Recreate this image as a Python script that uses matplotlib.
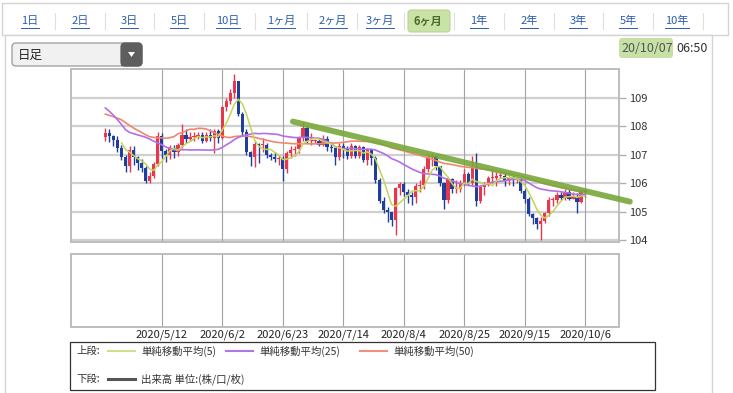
import numpy as np
import pandas as pd
import matplotlib
matplotlib.use("Agg")
import matplotlib.pyplot as plt
from matplotlib.patches import FancyBboxPatch, Rectangle, Polygon

plt.rcParams['font.family'] = ['Noto Sans CJK JP', 'DejaVu Sans']

# closes before the visible window (only used for the moving averages)
pre_closes = [109.82, 109.77, 109.87, 109.90, 111.42, 112.08, 111.59, 110.75, 110.17, 110.43,
              109.53, 107.89, 108.30, 107.48, 107.51, 106.13, 105.37, 102.35, 105.55, 104.65,
              104.60, 107.91, 105.78, 107.68, 108.72, 110.74, 110.83, 111.18, 111.20, 111.21,
              109.57, 107.94, 107.80, 107.53, 107.20, 107.89, 108.49, 109.25, 108.78, 108.84,
              108.46, 108.47, 107.76, 107.16, 107.48, 107.94, 107.54, 107.61, 107.63]

# daily candles 2020/4/22 - 2020/10/6
opens = [107.63, 107.77, 107.65, 107.51, 107.24, 106.92, 106.62, 107.17, 106.91, 106.70,
         106.53, 106.09, 106.26, 106.66, 107.67, 107.13, 107.00, 107.25, 107.09, 107.33,
         107.71, 107.57, 107.61, 107.63, 107.70, 107.50, 107.71, 107.59, 107.83, 107.59,
         108.67, 108.89, 109.18, 109.60, 108.44, 107.80, 107.10, 106.91, 107.37, 107.33,
         107.35, 106.98, 106.91, 106.86, 106.90, 106.51, 107.06, 107.16, 107.21, 107.58,
         107.93, 107.47, 107.49, 107.50, 107.36, 107.56, 107.26, 107.25, 106.91, 107.30,
         107.24, 106.95, 107.30, 106.96, 107.28, 106.80, 107.17, 106.88, 106.12, 105.38,
         105.05, 104.97, 104.71, 105.84, 105.97, 105.70, 105.58, 105.53, 105.91, 105.93,
         106.49, 106.93, 106.94, 106.59, 105.99, 105.40, 106.15, 105.78, 105.80, 105.97,
         106.34, 106.02, 106.58, 105.37, 105.87, 105.95, 106.17, 106.19, 106.24, 106.27,
         106.09, 106.18, 106.15, 106.15, 105.73, 105.44, 104.93, 104.76, 104.57, 104.67,
         104.94, 105.40, 105.40, 105.58, 105.49, 105.69, 105.46, 105.52, 105.33, 105.75]
highs = [107.95, 107.90, 107.70, 107.65, 107.35, 106.98, 107.30, 107.30, 106.95, 106.85,
         106.60, 106.40, 106.75, 107.80, 107.75, 107.20, 107.35, 107.35, 107.40, 108.10,
         107.90, 107.80, 107.80, 107.80, 107.80, 107.80, 107.90, 107.90, 107.90, 108.70,
         109.00, 109.30, 109.85, 109.60, 108.50, 107.90, 107.15, 107.50, 107.40, 107.60,
         107.40, 107.05, 107.10, 107.00, 106.95, 107.15, 107.30, 107.30, 107.65, 108.16,
         108.00, 107.75, 107.55, 107.60, 107.70, 107.65, 107.40, 107.30, 107.40, 107.40,
         107.30, 107.40, 107.35, 107.35, 107.30, 107.25, 107.20, 106.95, 106.20, 105.50,
         105.15, 105.00, 105.85, 106.05, 106.05, 105.80, 105.70, 106.00, 106.10, 106.60,
         107.00, 107.05, 106.95, 106.60, 106.05, 106.20, 106.20, 106.10, 106.10, 106.50,
         106.40, 106.95, 107.05, 105.95, 106.05, 106.25, 106.55, 106.40, 106.35, 106.40,
         106.25, 106.25, 106.20, 106.20, 105.80, 105.50, 104.95, 104.80, 104.80, 105.00,
         105.50, 105.50, 105.70, 105.70, 105.80, 105.80, 105.70, 105.65, 105.80, 105.80]
lows = [107.50, 107.45, 107.30, 107.10, 106.80, 106.40, 106.40, 106.65, 106.45, 106.40,
        105.99, 106.00, 106.20, 106.60, 106.90, 106.75, 106.85, 106.90, 106.95, 107.25,
        107.40, 107.50, 107.50, 107.55, 107.40, 107.45, 107.50, 107.05, 107.40, 107.55,
        108.55, 108.80, 109.00, 108.35, 107.70, 107.00, 106.60, 106.58, 106.70, 107.10,
        106.90, 106.80, 106.75, 106.65, 106.07, 106.35, 106.90, 106.95, 107.05, 107.50,
        107.40, 107.35, 107.40, 107.30, 107.30, 107.15, 107.10, 106.65, 106.80, 106.90,
        106.85, 106.90, 106.90, 106.90, 106.75, 106.65, 106.65, 106.00, 105.30, 104.95,
        104.65, 104.50, 104.19, 105.60, 105.55, 105.30, 105.25, 105.30, 105.70, 105.80,
        106.40, 106.60, 106.45, 105.90, 105.10, 105.30, 105.65, 105.65, 105.70, 105.90,
        105.95, 105.90, 105.20, 105.30, 105.60, 105.90, 106.00, 105.90, 106.20, 105.90,
        105.95, 105.90, 106.00, 105.65, 105.30, 104.85, 104.55, 104.40, 104.00, 104.60,
        104.85, 105.20, 105.30, 105.40, 105.40, 105.40, 105.45, 104.95, 105.30, 105.50]
closes = [107.77, 107.65, 107.51, 107.24, 106.92, 106.62, 107.17, 106.91, 106.70, 106.53,
          106.09, 106.26, 106.66, 107.67, 107.13, 107.00, 107.25, 107.09, 107.33, 107.71,
          107.57, 107.61, 107.63, 107.70, 107.50, 107.71, 107.59, 107.83, 107.59, 108.67,
          108.89, 109.18, 109.60, 108.44, 107.80, 107.10, 106.91, 107.37, 107.33, 107.35,
          106.98, 106.91, 106.86, 106.90, 106.51, 107.06, 107.16, 107.21, 107.58, 107.93,
          107.47, 107.49, 107.50, 107.36, 107.56, 107.26, 107.25, 106.91, 107.30, 107.24,
          106.95, 107.30, 106.96, 107.28, 106.80, 107.17, 106.88, 106.12, 105.38, 105.05,
          104.97, 104.71, 105.84, 105.97, 105.70, 105.58, 105.53, 105.91, 105.93, 106.49,
          106.93, 106.94, 106.59, 105.99, 105.40, 106.15, 105.78, 105.80, 105.97, 106.34,
          106.02, 106.58, 105.37, 105.87, 105.95, 106.17, 106.19, 106.24, 106.27, 106.09,
          106.18, 106.15, 106.15, 105.73, 105.44, 104.93, 104.76, 104.57, 104.67, 104.94,
          105.40, 105.40, 105.58, 105.49, 105.69, 105.46, 105.52, 105.33, 105.75, 105.68]

tick_labels = ['2020/5/12', '2020/6/2', '2020/6/23', '2020/7/14',
               '2020/8/4', '2020/8/25', '2020/9/15', '2020/10/6']
y_ticks = [104, 105, 106, 107, 108, 109]

# hand drawn trend line (day index, price)
trend_x = [46.5, 130.1]
trend_y = [108.17, 105.35]

tabs = ['1日', '2日', '3日', '5日', '10日', '1ヶ月', '2ヶ月', '3ヶ月', '6ヶ月',
        '1年', '2年', '3年', '5年', '10年']
active_tab = '6ヶ月'

dates = pd.bdate_range('2020-04-22', '2020-10-06')
labels_by_date = {d.strftime('%Y/%-m/%-d'): i for i, d in enumerate(dates)}
tick_pos = [labels_by_date[t] for t in tick_labels]

W, H = 733, 393
fig = plt.figure(figsize=(W / 100, H / 100), dpi=100)
fig.patch.set_facecolor('white')
bg = fig.add_axes([0, 0, 1, 1])
bg.set_xlim(0, W)
bg.set_ylim(H, 0)
bg.axis('off')


def px_axes(x0, y0, x1, y1):
    return fig.add_axes([x0 / W, 1 - y1 / H, (x1 - x0) / W, (y1 - y0) / H])


# page frame
bg.add_patch(Rectangle((2, 3), 726, 32, fc='white', ec='#d4d4d4', lw=1))
bg.add_patch(Rectangle((5, 35), 707, 370, fc='white', ec='#d4d4d4', lw=1))

# period tabs
tab_x = [30, 80, 129, 179, 228, 281, 333, 380, 428, 479, 529, 578, 628, 677]
bg.add_patch(FancyBboxPatch((408, 10), 42, 22, boxstyle='round,pad=0,rounding_size=3',
                            fc='#c9e2a6', ec='#b9d595', lw=0.8))
tab_texts = []
for x, t in zip(tab_x, tabs):
    if t == active_tab:
        bg.text(x, 21, t, ha='center', va='center', fontsize=8, color='#4b6a2e',
                fontweight='bold')
    else:
        tab_texts.append(bg.text(x, 21, t, ha='center', va='center', fontsize=8,
                                 color='#2a5cb0'))
for a, b in zip(tab_x[:-1], tab_x[1:]):
    bg.plot([(a + b) / 2] * 2, [13, 29], color='#dedede', lw=0.8)
bg.plot([703, 703], [13, 29], color='#dedede', lw=0.8)

# dropdown
bg.add_patch(FancyBboxPatch((12, 43), 130, 23, boxstyle='round,pad=0,rounding_size=4',
                            fc='#f1f1f1', ec='#9a9a9a', lw=0.9))
bg.add_patch(FancyBboxPatch((121, 43), 21, 23, boxstyle='round,pad=0,rounding_size=4',
                            fc='#5e5e5e', ec='#5e5e5e', lw=0.9))
bg.add_patch(Rectangle((121, 43.5), 6, 22, fc='#5e5e5e', ec='none'))
bg.add_patch(Polygon([[128, 52], [135, 52], [131.5, 57]], closed=True, fc='white', ec='none'))
bg.text(18, 55, '日足', ha='left', va='center', fontsize=9, color='#222222')

# timestamp
bg.add_patch(FancyBboxPatch((619, 38), 54, 20, boxstyle='round,pad=0,rounding_size=3',
                            fc='#c6e0a6', ec='none'))
bg.text(621, 48, '20/10/07', ha='left', va='center', fontsize=9, color='#555555')
bg.text(676, 48, '06:50', ha='left', va='center', fontsize=9, color='#333333')

# main price chart
ax = px_axes(70.7, 69, 619, 242)
idx = np.arange(len(closes))
o = np.array(opens)
c = np.array(closes)
up = c >= o
colors = np.where(up, '#e8374c', '#203f9b')
ax.vlines(idx, lows, highs, colors=colors, lw=1.0, zorder=3)
body = np.maximum(np.abs(c - o), 0.035)
ax.bar(idx, body, bottom=np.minimum(o, c), width=0.8, color=colors, zorder=4, lw=0)

full = np.array(pre_closes + closes)
for n, col in [(50, '#f0876c'), (25, '#b46ee6')]:
    ma = np.convolve(full, np.ones(n) / n, mode='valid')[-len(closes):]
    ax.plot(idx, ma, color=col, lw=1.2, zorder=5)
ma5 = np.convolve(c, np.ones(5) / 5, mode='valid')
ax.plot(idx[4:], ma5, color='#c3d45a', lw=1.1, zorder=5)

ax.plot(trend_x, trend_y, color='#78a83a', lw=4.2, alpha=0.9, clip_on=False,
        solid_capstyle='round', zorder=6)

ax.set_xlim(-8.6, 127.4)
ax.set_ylim(103.93, 110.02)
ax.set_yticks(y_ticks)
ax.yaxis.tick_right()
ax.tick_params(axis='y', length=5, width=1, color='#b0b0b0', labelsize=8,
               labelcolor='#333333', pad=2)
ax.set_xticks(tick_pos)
ax.tick_params(axis='x', length=0, labelbottom=False)
for y in y_ticks:
    ax.axhline(y, color='#d0d0d0', lw=1.6, zorder=1)
for x in tick_pos:
    ax.axvline(x, color='#a3a3a3', lw=0.8, zorder=1)
for s in ax.spines.values():
    s.set_color('#bdbdbd')
    s.set_linewidth(1.4)

# volume panel (empty)
vax = px_axes(70.7, 254, 619, 327)
vax.set_xlim(-8.6, 127.4)
vax.set_ylim(0, 1)
vax.set_yticks([])
vax.set_xticks(tick_pos)
vax.set_xticklabels(tick_labels)
vax.tick_params(axis='x', length=0, labelsize=8, labelcolor='#222222', pad=2)
for x in tick_pos:
    vax.axvline(x, color='#a3a3a3', lw=0.8)
for s in vax.spines.values():
    s.set_color('#bdbdbd')
    s.set_linewidth(1.4)

# legend box
bg.add_patch(Rectangle((70, 342), 585, 48, fill=False, ec='#333333', lw=0.9))
bg.text(76, 351, '上段:', ha='left', va='center', fontsize=7.5, color='#333333')
for x0, col, txt in [(108, '#cfdf8e', '単純移動平均(5)'),
                     (226, '#b274e6', '単純移動平均(25)'),
                     (360, '#f0907e', '単純移動平均(50)')]:
    bg.plot([x0, x0 + 27], [351, 351], color=col, lw=1.5)
    bg.text(x0 + 33, 351, txt, ha='left', va='center', fontsize=7.5, color='#333333')
bg.text(76, 379, '下段:', ha='left', va='center', fontsize=7.5, color='#333333')
bg.plot([108, 135], [379, 379], color='#555555', lw=2.2)
bg.text(141, 379, '出来高 単位:(株/口/枚)', ha='left', va='center', fontsize=7.5,
        color='#333333')

# underline the tab links
fig.canvas.draw()
r = fig.canvas.get_renderer()
inv = bg.transData.inverted()
for t in tab_texts:
    bb = t.get_window_extent(r)
    (x0, _), (x1, _) = inv.transform([[bb.x0, bb.y0], [bb.x1, bb.y1]])
    bg.plot([x0, x1], [28, 28], color='#2a5cb0', lw=0.7)

fig.savefig('out.png', dpi=100)
